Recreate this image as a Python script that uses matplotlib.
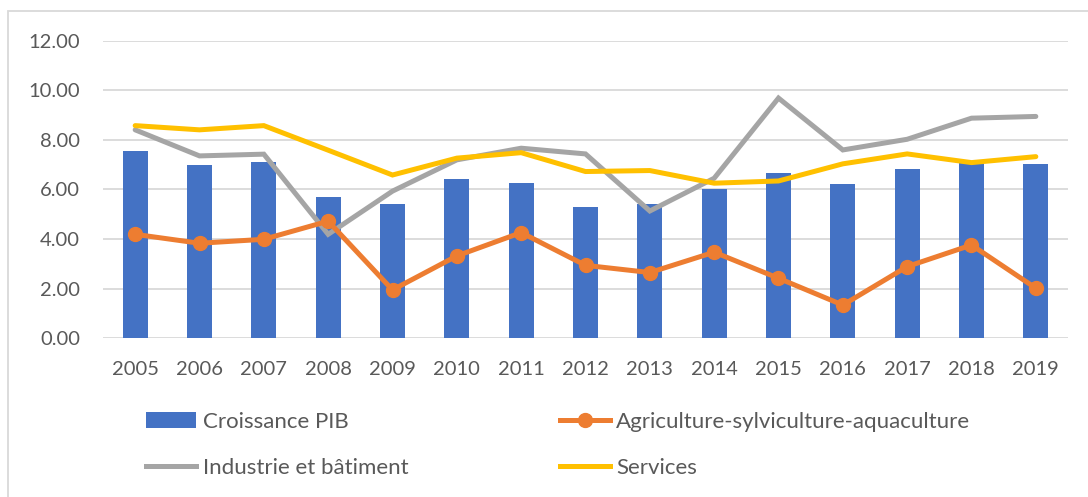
import matplotlib

matplotlib.use("Agg")

import matplotlib.pyplot as plt
import numpy as np
from matplotlib.lines import Line2D
from matplotlib.patches import Patch, Rectangle

years = ["2005", "2006", "2007", "2008", "2009", "2010", "2011", "2012",
         "2013", "2014", "2015", "2016", "2017", "2018", "2019"]
pib = [7.55, 6.97, 7.12, 5.69, 5.43, 6.41, 6.25, 5.28,
       5.42, 6.01, 6.67, 6.21, 6.81, 7.06, 7.03]
agriculture = [4.19, 3.83, 3.99, 4.72, 1.95, 3.32, 4.26, 2.94,
               2.65, 3.47, 2.42, 1.34, 2.89, 3.76, 2.02]
industrie = [8.40, 7.35, 7.42, 4.19, 5.93, 7.19, 7.66, 7.43,
             5.13, 6.45, 9.68, 7.59, 8.02, 8.87, 8.94]
services = [8.57, 8.40, 8.57, 7.58, 6.58, 7.26, 7.48, 6.72,
            6.76, 6.25, 6.34, 7.03, 7.43, 7.08, 7.32]
y_ticks = [0, 2, 4, 6, 8, 10, 12]

plt.rcParams["font.family"] = ["Lato", "DejaVu Sans"]

blue = "#4472c4"
orange = "#ed7d31"
gray = "#a5a5a5"
yellow = "#ffc000"
text_col = "#595959"

fig = plt.figure(figsize=(10.88, 4.97), dpi=100)
ax = fig.add_axes([103 / 1088, 1 - 338.3 / 497, 965 / 1088, 297.8 / 497])

x = np.arange(len(years))
ax.bar(x, pib, width=0.39, color=blue, zorder=2)
ax.plot(x, industrie, color=gray, lw=3.6, solid_capstyle="round",
        solid_joinstyle="miter", zorder=3)
ax.plot(x, services, color=yellow, lw=3.6, solid_capstyle="round",
        solid_joinstyle="miter", zorder=3)
ax.plot(x, agriculture, color=orange, lw=3.6, marker="o", markersize=10,
        solid_joinstyle="miter", zorder=4)

ax.set_xlim(-0.5, len(years) - 0.5)
ax.set_ylim(0, 12)
ax.set_yticks(y_ticks)
ax.set_yticklabels([f"{v:.2f}" for v in y_ticks])
ax.set_xticks(x)
ax.set_xticklabels(years)
ax.tick_params(length=0, labelsize=14.5, colors=text_col)
ax.tick_params(axis="y", pad=16.5)
ax.tick_params(axis="x", pad=16)
ax.grid(axis="y", color="#d9d9d9", lw=1.3, zorder=0)
for s in ax.spines.values():
    s.set_visible(False)

# chart border
fig.patches.append(Rectangle((8 / 1088, -0.1), 1.2, 1.1 - 11 / 497,
                             transform=fig.transFigure, fill=False,
                             edgecolor="#d9d9d9", lw=1.3))

handles = [
    Patch(facecolor=blue),
    Line2D([], [], color=gray, lw=3.6),
    Line2D([], [], color=orange, lw=3.6, marker="o", markersize=10),
    Line2D([], [], color=yellow, lw=3.6),
]
labels = ["Croissance PIB", "Industrie et bâtiment",
          "Agriculture-sylviculture-aquaculture", "Services"]
fig.legend(handles, labels, ncol=2, frameon=False, loc="upper left",
           bbox_to_anchor=(126 / 1088, 1 - 392 / 497), fontsize=16,
           labelcolor=text_col, handlelength=2.25, handletextpad=0.3,
           columnspacing=6.81, labelspacing=1.15)

fig.savefig("out.png", dpi=100)
